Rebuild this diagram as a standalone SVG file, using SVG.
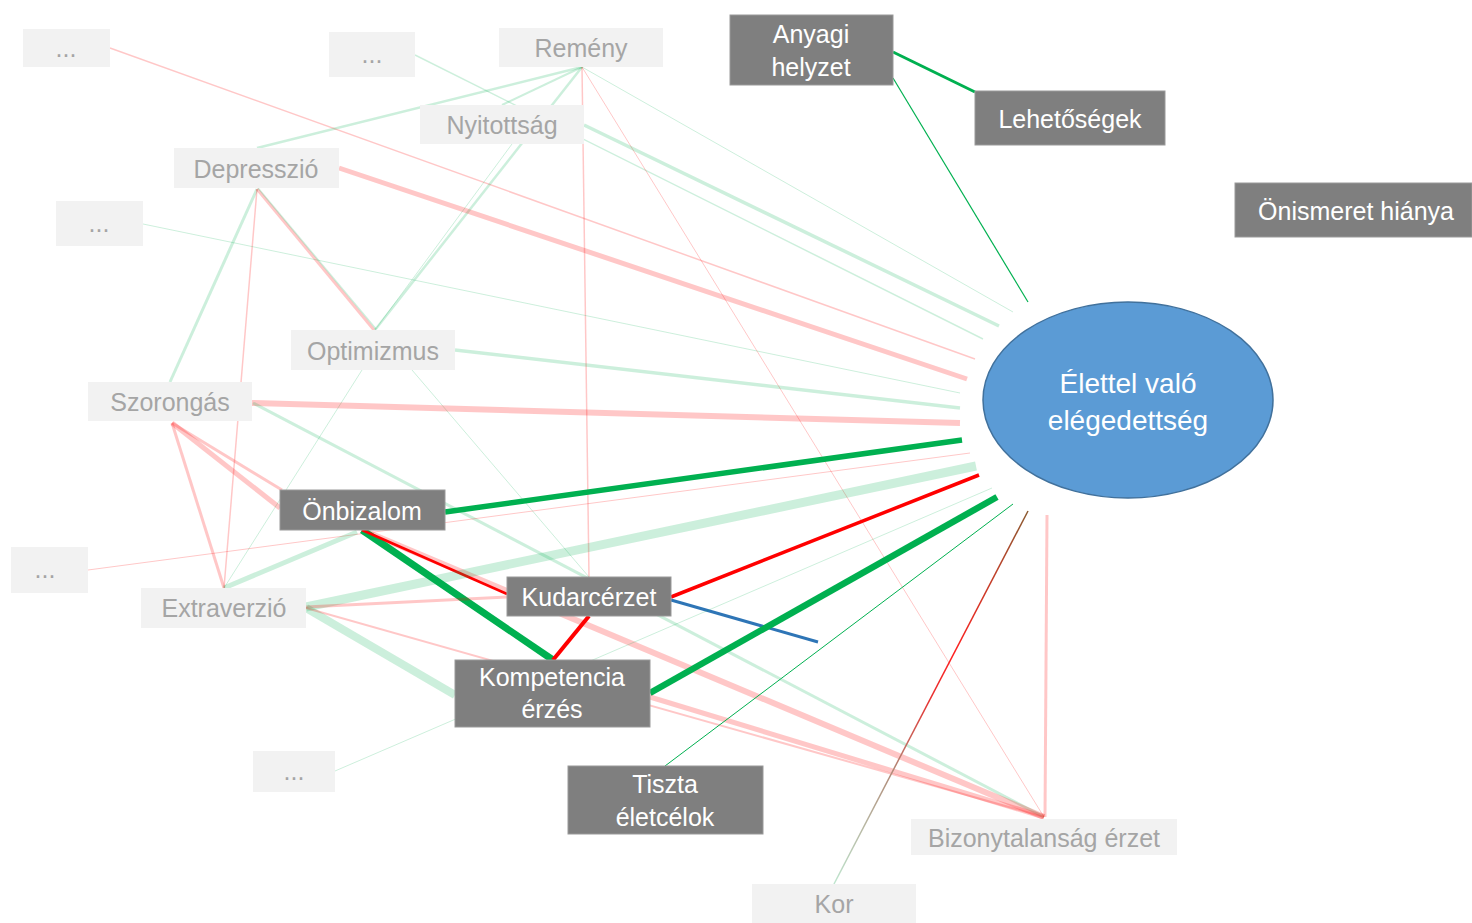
<svg xmlns="http://www.w3.org/2000/svg" width="1472" height="923" viewBox="0 0 1472 923">
<defs>
<style>
.lg{stroke:#00b050;stroke-opacity:0.2;fill:none}
.lp{stroke:#ff0000;stroke-opacity:0.22;fill:none}
.g{stroke:#00b050;fill:none}
.r{stroke:#ff0000;fill:none}
.b{stroke:#2e75b6;fill:none}
.lbox{fill:#f2f2f2}
.dbox{fill:#7f7f7f;stroke:#9a9a9a;stroke-width:1}
.lt{font-family:"Liberation Sans",Arial,sans-serif;font-size:25px;fill:#a5a5a5;text-anchor:middle}
.dt{font-family:"Liberation Sans",Arial,sans-serif;font-size:25px;fill:#ffffff;text-anchor:middle}
.et{font-family:"Liberation Sans",Arial,sans-serif;font-size:28px;fill:#ffffff;text-anchor:middle}
</style>
<linearGradient id="korGrad" gradientUnits="userSpaceOnUse" x1="834" y1="884" x2="1028" y2="511">
<stop offset="0" stop-color="#bfe6cf"/>
<stop offset="0.3" stop-color="#b08a78"/>
<stop offset="0.5" stop-color="#e83030"/>
<stop offset="0.62" stop-color="#ff2020"/>
<stop offset="1" stop-color="#8a5a30"/>
</linearGradient>
</defs>
<rect width="1472" height="923" fill="#ffffff"/>
<g id="connectors">
<line class="g" stroke-width="3" x1="893" y1="52" x2="975" y2="92"/>
<line class="g" stroke-width="1.2" x1="893" y1="78" x2="1028" y2="302"/>
<line class="lp" stroke-width="1.5" x1="110" y1="48" x2="975" y2="359"/>
<line class="lg" stroke-width="1.5" x1="415" y1="55" x2="983" y2="339"/>
<line class="lg" stroke-width="2.5" x1="582" y1="67" x2="257" y2="148"/>
<line class="lg" stroke-width="2" x1="582" y1="67" x2="502" y2="105"/>
<line class="lg" stroke-width="2.5" x1="582" y1="67" x2="375" y2="330"/>
<line class="lp" stroke-width="1.5" x1="582" y1="67" x2="589" y2="577"/>
<line class="lp" stroke-width="1" x1="582" y1="67" x2="1044" y2="817"/>
<line class="lg" stroke-width="1" x1="582" y1="67" x2="1013" y2="312"/>
<line class="lg" stroke-width="3.5" x1="584" y1="125" x2="999" y2="326"/>
<line class="lg" stroke-width="1" x1="512" y1="144" x2="375" y2="330"/>
<line class="lg" stroke-width="3" x1="257" y1="189" x2="170" y2="382"/>
<line class="lp" stroke-width="1.5" x1="257" y1="189" x2="224" y2="588"/>
<line class="lp" stroke-width="3" x1="257" y1="189" x2="374" y2="330"/>
<line class="lg" stroke-width="1.5" x1="258" y1="188" x2="376" y2="329"/>
<line class="lp" stroke-width="5" x1="339" y1="168" x2="967" y2="379"/>
<line class="lg" stroke-width="1" x1="143" y1="224" x2="960" y2="393"/>
<line class="lg" stroke-width="3.5" x1="455" y1="350" x2="960" y2="408"/>
<line class="lg" stroke-width="1" x1="362" y1="370" x2="224" y2="588"/>
<line class="lg" stroke-width="1" x1="412" y1="370" x2="589" y2="577"/>
<line class="lp" stroke-width="6" x1="252" y1="403" x2="960" y2="423"/>
<line class="lg" stroke-width="3" x1="253" y1="403" x2="1044" y2="817"/>
<line class="lp" stroke-width="5" x1="172" y1="423" x2="280" y2="508"/>
<line class="lp" stroke-width="3" x1="172" y1="423" x2="282" y2="490"/>
<line class="lp" stroke-width="3" x1="172" y1="423" x2="224" y2="588"/>
<line class="lp" stroke-width="1" x1="88" y1="570" x2="970" y2="453"/>
<line class="g" stroke-width="5.5" x1="445" y1="512" x2="962" y2="440"/>
<line class="lp" stroke-width="6" x1="362" y1="530" x2="1044" y2="817"/>
<line class="g" stroke-width="7" x1="362" y1="530" x2="553" y2="660"/>
<line class="r" stroke-width="2.5" x1="362" y1="530" x2="507" y2="594"/>
<line class="lg" stroke-width="5" x1="224" y1="588" x2="357" y2="532"/>
<line class="lg" stroke-width="9" x1="306" y1="607" x2="976" y2="466"/>
<line class="lp" stroke-width="3" x1="306" y1="607" x2="507" y2="597"/>
<line class="lg" stroke-width="8" x1="306" y1="608" x2="455" y2="695"/>
<line class="lp" stroke-width="2" x1="306" y1="608" x2="1044" y2="817"/>
<line class="r" stroke-width="3.5" x1="671" y1="597" x2="979" y2="475"/>
<line class="b" stroke-width="3" x1="671" y1="600" x2="818" y2="642"/>
<line class="r" stroke-width="4" x1="589" y1="616" x2="553" y2="660"/>
<line class="g" stroke-width="6.5" x1="650" y1="693" x2="997" y2="497"/>
<line class="lp" stroke-width="5" x1="650" y1="697" x2="1044" y2="817"/>
<line class="lg" stroke-width="1" x1="335" y1="771" x2="992" y2="488"/>
<line class="g" stroke-width="1" x1="665" y1="766" x2="1013" y2="504"/>
<line stroke="url(#korGrad)" stroke-width="1.5" x1="834" y1="884" x2="1028" y2="511"/>
<line class="lp" stroke-width="3" x1="1045" y1="817" x2="1047" y2="515"/>
</g>
<g id="node-dots1"><rect class="lbox" x="23" y="29" width="87" height="38"/><text class="lt" x="66" y="57">...</text></g>
<g id="node-dots2"><rect class="lbox" x="329" y="32" width="86" height="45"/><text class="lt" x="372" y="63">...</text></g>
<g id="node-remeny"><rect class="lbox" x="499" y="28" width="164" height="39"/><text class="lt" x="581" y="57">Remény</text></g>
<g id="node-nyitottsag"><rect class="lbox" x="420" y="105" width="164" height="39"/><text class="lt" x="502" y="134">Nyitottság</text></g>
<g id="node-depresszio"><rect class="lbox" x="174" y="148" width="165" height="40"/><text class="lt" x="256" y="178">Depresszió</text></g>
<g id="node-dots3"><rect class="lbox" x="56" y="201" width="87" height="45"/><text class="lt" x="99" y="232">...</text></g>
<g id="node-optimizmus"><rect class="lbox" x="291" y="330" width="164" height="40"/><text class="lt" x="373" y="360">Optimizmus</text></g>
<g id="node-szorongas"><rect class="lbox" x="88" y="382" width="164" height="39"/><text class="lt" x="170" y="411">Szorongás</text></g>
<g id="node-dots4"><rect class="lbox" x="11" y="547" width="77" height="46"/><text class="lt" x="45" y="578">...</text></g>
<g id="node-extraverzio"><rect class="lbox" x="141" y="588" width="165" height="40"/><text class="lt" x="224" y="617">Extraverzió</text></g>
<g id="node-dots5"><rect class="lbox" x="253" y="751" width="82" height="41"/><text class="lt" x="294" y="780">...</text></g>
<g id="node-bizonytalansag"><rect class="lbox" x="911" y="819" width="266" height="36"/><text class="lt" x="1044" y="847">Bizonytalanság érzet</text></g>
<g id="node-kor"><rect class="lbox" x="752" y="884" width="164" height="39"/><text class="lt" x="834" y="913">Kor</text></g>
<g id="node-anyagi"><rect class="dbox" x="730" y="15" width="163" height="70"/><text class="dt" x="811" y="43">Anyagi</text><text class="dt" x="811" y="76">helyzet</text></g>
<g id="node-lehetosegek"><rect class="dbox" x="975" y="91" width="190" height="54"/><text class="dt" x="1070" y="128">Lehetőségek</text></g>
<g id="node-onismeret"><rect class="dbox" x="1235" y="183" width="237" height="54"/><text class="dt" x="1356" y="220">Önismeret hiánya</text></g>
<g id="node-onbizalom"><rect class="dbox" x="280" y="490" width="165" height="40"/><text class="dt" x="362" y="520">Önbizalom</text></g>
<g id="node-kudarcerzet"><rect class="dbox" x="507" y="577" width="164" height="39"/><text class="dt" x="589" y="606">Kudarcérzet</text></g>
<g id="node-kompetencia"><rect class="dbox" x="455" y="660" width="195" height="67"/><text class="dt" x="552" y="686">Kompetencia</text><text class="dt" x="552" y="718">érzés</text></g>
<g id="node-tiszta"><rect class="dbox" x="568" y="766" width="195" height="68"/><text class="dt" x="665" y="793">Tiszta</text><text class="dt" x="665" y="826">életcélok</text></g>
<g id="node-elettel"><ellipse cx="1128" cy="400" rx="145" ry="98" fill="#5b9bd5" stroke="#41719c" stroke-width="1.5"/><text class="et" x="1128" y="393">Élettel való</text><text class="et" x="1128" y="430">elégedettség</text></g>
</svg>
